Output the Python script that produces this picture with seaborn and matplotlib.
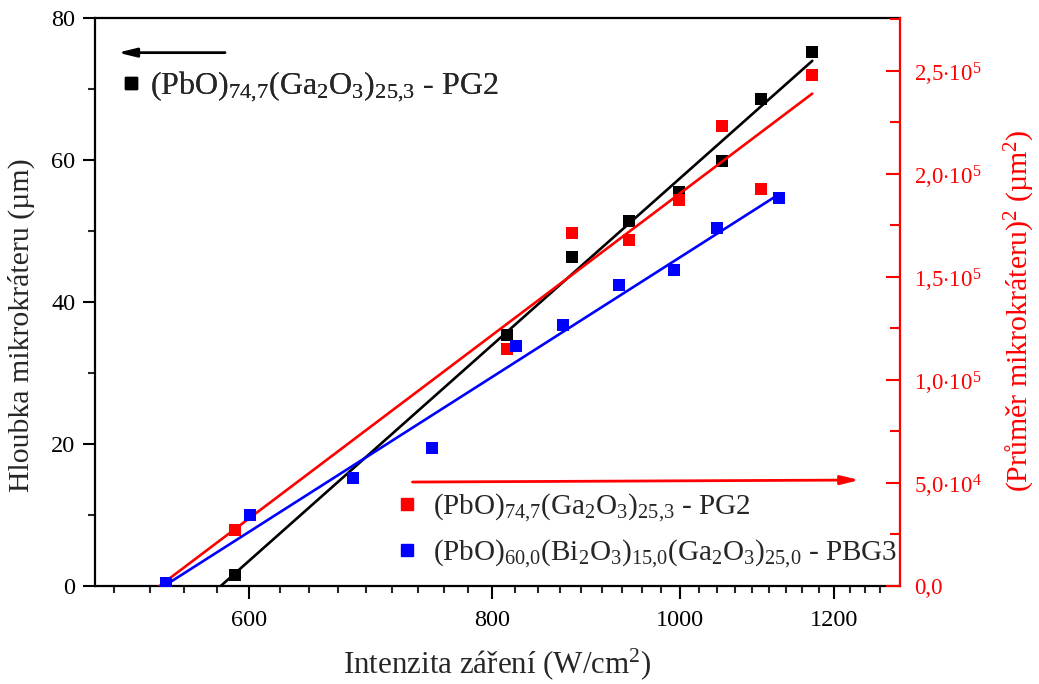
import numpy as np
import pandas as pd
import matplotlib
matplotlib.use("Agg")
import matplotlib.pyplot as plt
from matplotlib.ticker import FixedLocator, FuncFormatter, NullFormatter, MultipleLocator
from matplotlib.lines import Line2D
import seaborn as sns

# ---------------- data ----------------
pg2_intensity = [590, 814, 880, 941, 998, 1050, 1100, 1169]
pg2_depth = [1.6, 35.4, 46.3, 51.4, 55.5, 59.9, 68.6, 75.2]
pg2_diam2 = [27200, 115000, 171300, 167900, 187400, 223200, 192800, 248000]

pbg3_intensity = [544, 601, 679, 745, 823, 870, 930, 993, 1044, 1124]
pbg3_diam2 = [1500, 34600, 52500, 67100, 116500, 126500, 146200, 153500, 173700, 188300]

x_major = [600, 800, 1000, 1200]
x_minor = [600 + k * 200 / 9 for k in range(-4, 31)]
y_left_major = [0, 20, 40, 60, 80]
y_right_major = [0, 50000, 100000, 150000, 200000, 250000]

label_pg2 = r"(PbO)$_\mathrm{74{,}7}$(Ga$_\mathrm{2}$O$_\mathrm{3}$)$_\mathrm{25{,}3}$ - PG2"
label_pbg3 = (r"(PbO)$_\mathrm{60{,}0}$(Bi$_\mathrm{2}$O$_\mathrm{3}$)$_\mathrm{15{,}0}$"
              r"(Ga$_\mathrm{2}$O$_\mathrm{3}$)$_\mathrm{25{,}0}$ - PBG3")
xlabel = r"Intenzita záření (W/cm$^\mathrm{2}$)"
ylabel_left = "Hloubka mikrokráteru (µm)"
ylabel_right = r"(Průměr mikrokráteru)$^\mathrm{2}$ (µm$^\mathrm{2}$)"

# ---------------- style ----------------
sns.set_theme(style="ticks")
plt.rcParams["font.family"] = ["Liberation Serif", "DejaVu Serif"]
plt.rcParams["mathtext.fontset"] = "custom"
plt.rcParams["mathtext.rm"] = "Liberation Serif"
plt.rcParams["mathtext.it"] = "Liberation Serif:italic"
plt.rcParams["mathtext.bf"] = "Liberation Serif:bold"

BLACK, RED, BLUE = "#000000", "#ff0000", "#0000ff"

fig = plt.figure(figsize=(10.39, 6.84), dpi=100)
ax = fig.add_axes([95 / 1039, 1 - 586 / 684, (900 - 95) / 1039, (586 - 18) / 684])
ax2 = ax.twinx()

df1 = pd.DataFrame({"x": pg2_intensity, "depth": pg2_depth, "d2": pg2_diam2})
df2 = pd.DataFrame({"x": pbg3_intensity, "d2": pbg3_diam2})

def fit_line(xs, ys):
    xs = np.asarray(xs, float)
    ys = np.asarray(ys, float)
    b, a = np.polyfit(np.log(xs), ys, 1)
    grid = np.geomspace(480, xs.max(), 200)
    return pd.DataFrame({"x": grid, "y": a + b * np.log(grid)})

f_black = fit_line(pg2_intensity, pg2_depth)
f_red = fit_line(pg2_intensity, pg2_diam2)
f_blue = fit_line(pbg3_intensity, pbg3_diam2)

lw = 1.9
sns.lineplot(data=f_black, x="x", y="y", ax=ax, color=BLACK, lw=lw, sort=False, estimator=None, zorder=2)
sns.scatterplot(data=df1, x="x", y="depth", ax=ax, color=BLACK, marker="s", s=85, linewidth=0, zorder=3)

sns.lineplot(data=f_red, x="x", y="y", ax=ax2, color=RED, lw=lw, sort=False, estimator=None, zorder=2)
sns.lineplot(data=f_blue, x="x", y="y", ax=ax2, color=BLUE, lw=lw, sort=False, estimator=None, zorder=2)
sns.scatterplot(data=df1, x="x", y="d2", ax=ax2, color=RED, marker="s", s=85, linewidth=0, zorder=3)
sns.scatterplot(data=df2, x="x", y="d2", ax=ax2, color=BLUE, marker="s", s=85, linewidth=0, zorder=3)

# ---------------- axes ----------------
ax.set_xscale("log")
ax.set_xlim(500, 1297)
ax.set_ylim(0, 80)
ax2.set_ylim(0, 275700)

ax.xaxis.set_major_locator(FixedLocator(x_major))
ax.xaxis.set_minor_locator(FixedLocator(x_minor))
ax.xaxis.set_major_formatter(FuncFormatter(lambda v, p: f"{v:.0f}"))
ax.xaxis.set_minor_formatter(NullFormatter())

ax.yaxis.set_major_locator(FixedLocator(y_left_major))
ax.yaxis.set_minor_locator(MultipleLocator(10))
ax2.yaxis.set_major_locator(FixedLocator(y_right_major))
ax2.yaxis.set_minor_locator(MultipleLocator(25000))

def right_fmt(v, p):
    if v == 0:
        return "0,0"
    e = int(np.floor(np.log10(v)))
    m = v / 10 ** e
    s = f"{m:.1f}".replace(".", ",")
    return s + r"$\cdot$10$^\mathrm{" + str(e) + "}$"

ax2.yaxis.set_major_formatter(FuncFormatter(right_fmt))

tick_fs = 17.5
ax.tick_params(axis="both", which="major", direction="out", length=9, width=1.5,
               labelsize=tick_fs, colors=BLACK, pad=5)
ax.tick_params(axis="both", which="minor", direction="out", length=5, width=1.5)
ax.tick_params(axis="x", which="major", pad=8)
ax2.tick_params(axis="y", which="major", direction="in", length=10, width=1.5,
                labelsize=16.5, colors=RED, pad=10)
ax2.tick_params(axis="y", which="minor", direction="in", length=7, width=1.5, colors=RED)

for sp in ["left", "bottom", "top"]:
    ax.spines[sp].set_linewidth(1.6)
    ax.spines[sp].set_color(BLACK)
ax.spines["right"].set_visible(False)
for sp in ["left", "bottom", "top"]:
    ax2.spines[sp].set_visible(False)
ax2.spines["right"].set_color(RED)
ax2.spines["right"].set_linewidth(1.6)

ax.set_xlabel(xlabel, fontsize=22.3, labelpad=11)
ax.set_ylabel(ylabel_left, fontsize=21.5)
ax.yaxis.set_label_coords(-0.0745, 0.46)
ax2.set_ylabel(ylabel_right, fontsize=21.5, color=RED)
ax2.yaxis.set_label_coords(1.128, 0.484)

# ---------------- legends & arrows ----------------
h_black = Line2D([], [], color=BLACK, marker="s", markersize=9, linestyle="none")
h_red = Line2D([], [], color=RED, marker="s", markersize=9, linestyle="none")
h_blue = Line2D([], [], color=BLUE, marker="s", markersize=9, linestyle="none")

leg1 = ax.legend([h_black], [label_pg2], loc="center left", bbox_to_anchor=(0.033, 0.878),
                 frameon=False, fontsize=23, handlelength=0.6, handletextpad=0.3,
                 borderaxespad=0, borderpad=0)
ax.add_artist(leg1)
leg2 = ax2.legend([h_red, h_blue], [label_pg2, label_pbg3], loc="center left",
                  bbox_to_anchor=(0.377, 0.0977), frameon=False, fontsize=21, handlelength=0.6,
                  handletextpad=0.6, labelspacing=0.48, borderaxespad=0, borderpad=0)

ax.annotate("", xy=(0.025, 0.939), xytext=(0.165, 0.939), xycoords="axes fraction",
            arrowprops=dict(arrowstyle="-|>,head_length=0.9,head_width=0.22", color=BLACK, lw=2))
ax2.annotate("", xy=(0.953, 0.1866), xytext=(0.391, 0.183), xycoords="axes fraction",
             arrowprops=dict(arrowstyle="-|>,head_length=0.9,head_width=0.22", color=RED, lw=2))

fig.savefig("out.png", dpi=100)
